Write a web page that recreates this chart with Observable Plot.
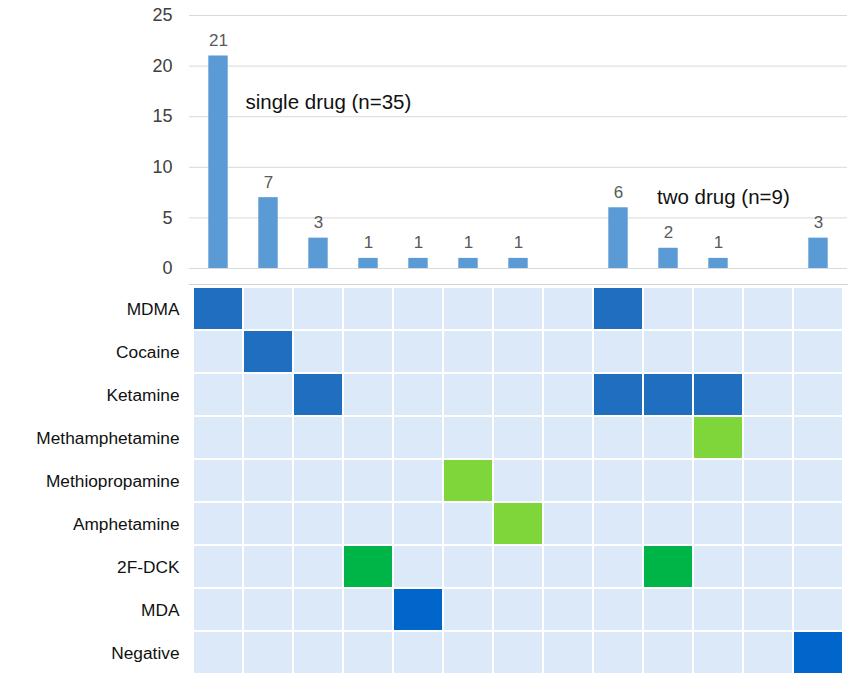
<!DOCTYPE html>
<html><head><meta charset="utf-8">
<script src="https://cdn.jsdelivr.net/npm/d3@7"></script>
<script src="https://cdn.jsdelivr.net/npm/@observablehq/plot@0.6"></script>
<style>
body{margin:0;background:#fff;}
#chart{width:850px;}
#chart svg{display:block;}
</style>
</head><body><div id="chart"></div>
<script>
// ---- data ----
const columns = ["1","2","3","4","5","6","7","8","9","10","11","12","13"];
const counts = [21, 7, 3, 1, 1, 1, 1, null, 6, 2, 1, null, 3];
const yTicks = [0, 5, 10, 15, 20, 25];
const drugs = ["MDMA","Cocaine","Ketamine","Methamphetamine","Methiopropamine","Amphetamine","2F-DCK","MDA","Negative"];
const hitDrug   = ["MDMA","MDMA","Cocaine","Ketamine","Ketamine","Ketamine","Ketamine","Methamphetamine","Methiopropamine","Amphetamine","2F-DCK","2F-DCK","MDA","Negative"];
const hitColumn = ["1","9","2","3","9","10","11","11","6","7","4","10","5","13"];
const hitKind   = ["blue","blue","blue","blue","blue","blue","blue","lime","lime","lime","green","green","royal","royal"];
const kindNames  = ["blue","lime","green","royal"];
const kindColors = ["#1F6EBF","#7ED63A","#00B548","#0066CC"];
const noteSingle = {text: "single drug (n=35)", col: "2", value: 16.2};
const noteTwo = {text: "two drug (n=9)", col: "10", value: 6.8};

// ---- derived tables ----
const bars = columns.map((c, i) => ({col: c, count: counts[i]})).filter(d => d.count != null);
const grid = drugs.flatMap(d => columns.map(c => ({drug: d, col: c})));
const hits = hitDrug.map((d, i) => ({drug: d, col: hitColumn[i], kind: hitKind[i]}));

const font = "Liberation Sans, Arial, Helvetica, sans-serif";

const barChart = Plot.plot({
  width: 850, height: 280,
  marginLeft: 189, marginRight: 3, marginTop: 15, marginBottom: 12,
  style: {fontFamily: font, background: "#fff"},
  x: {domain: columns, padding: 0, axis: null},
  y: {domain: [0, 25], axis: null},
  marks: [
    Plot.ruleY(yTicks, {stroke: "#d9d9d9", strokeWidth: 1}),
    Plot.axisY({ticks: yTicks, tickSize: 0, tickPadding: 17, fontSize: 18, fill: "#404040", stroke: null, label: null}),
    Plot.barY(bars, {x: "col", y: "count", fill: "#5B9BD5", insetLeft: 15.3, insetRight: 15.3}),
    Plot.text(bars, {x: "col", y: "count", text: d => String(d.count), lineAnchor: "bottom", dy: -10, fontSize: 17, fill: "#595959"}),
    Plot.text([noteSingle], {x: "col", y: "value", text: "text", textAnchor: "start", lineAnchor: "bottom", dx: -23, dy: 4, fontSize: 20.5, fill: "#111"}),
    Plot.text([noteTwo], {x: "col", y: "value", text: "text", textAnchor: "start", lineAnchor: "bottom", dx: -11.5, dy: 4, fontSize: 20.5, fill: "#111"})
  ]
});

const heatChart = Plot.plot({
  width: 850, height: 400,
  marginLeft: 189, marginRight: 3, marginTop: 4, marginBottom: 3,
  style: {fontFamily: font, background: "#fff"},
  x: {domain: columns, padding: 0, axis: null},
  y: {domain: drugs, padding: 0, axis: null},
  color: {domain: kindNames, range: kindColors},
  marks: [
    Plot.cell(grid, {x: "col", y: "drug", fill: "#DCE9F8", inset: 1}),
    Plot.cell(hits, {x: "col", y: "drug", fill: "kind", inset: 1}),
    Plot.frame({anchor: "top", stroke: "#d6d2ca"}),
    Plot.axisY({tickSize: 0, tickPadding: 10, fontSize: 17.3, fill: "#111", stroke: null, label: null})
  ]
});

document.getElementById("chart").append(barChart, heatChart);
</script>
</body></html>
